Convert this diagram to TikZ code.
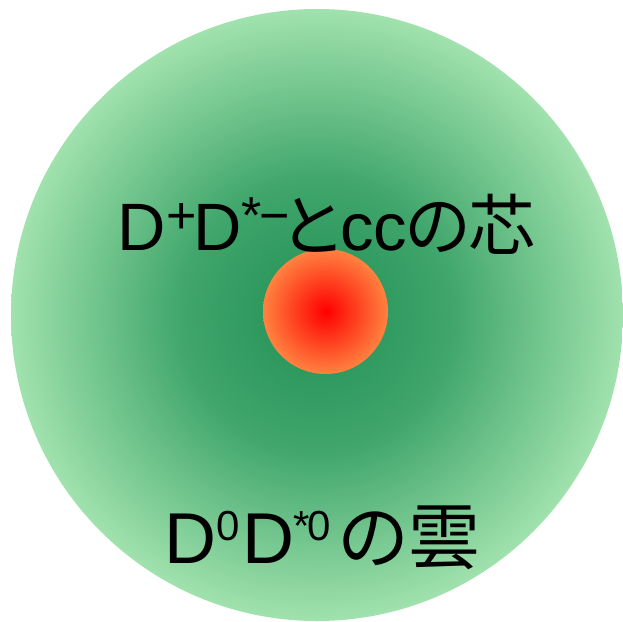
\documentclass[tikz,border=0pt]{standalone}
\usepackage{fontspec}
\setmainfont{Liberation Sans}
\newfontfamily\jpfont{Noto Sans CJK JP}
\pgfdeclareradialshading{greenball}{\pgfpoint{0bp}{0bp}}{%
  rgb(0bp)=(0.13,0.56,0.33); rgb(11bp)=(0.25,0.65,0.42); rgb(25bp)=(0.63,0.885,0.68); rgb(50bp)=(0.63,0.885,0.68)}
\pgfdeclareradialshading{redball}{\pgfpoint{0bp}{0bp}}{%
  rgb(0bp)=(1,0,0); rgb(25bp)=(1,0.51,0.25); rgb(50bp)=(1,0.51,0.25)}
\newcommand\supA[1]{\raisebox{17pt}{\fontsize{52}{52}\selectfont #1}}
\newcommand\supB[1]{\raisebox{23pt}{\fontsize{42}{42}\selectfont #1}}
\tikzset{
  lbl/.style={anchor=base west, inner sep=0pt, text=black}
}
\begin{document}
\begin{tikzpicture}[x=1pt,y=-1pt]
\useasboundingbox (0,0) rectangle (623,621);
\clip (0,0) rectangle (623,621);
\shade[shading=greenball] (317,315) circle[radius=306];
\shade[shading=redball] (325.5,311.5) circle[radius=62.5];
\node[lbl, font=\fontsize{67}{70}\selectfont] (core) at (117.5,250)
  {D\supA{+}\hspace{-3pt}D\supA{*}\hspace{-3pt}\supA{−}{\jpfont\hspace{-10pt}と\hspace{-6pt}}cc{\jpfont\hspace{-3pt}の\hspace{-3pt}芯}};
\node[lbl, font=\fontsize{72}{75}\selectfont] (cloud) at (164,563)
  {D\supB{0}\hspace{3pt}D\hspace{-1pt}\supB{*}\hspace{-2pt}\supB{0}{\jpfont\hspace{6pt}の\hspace{-1pt}雲}};
\end{tikzpicture}
\end{document}
